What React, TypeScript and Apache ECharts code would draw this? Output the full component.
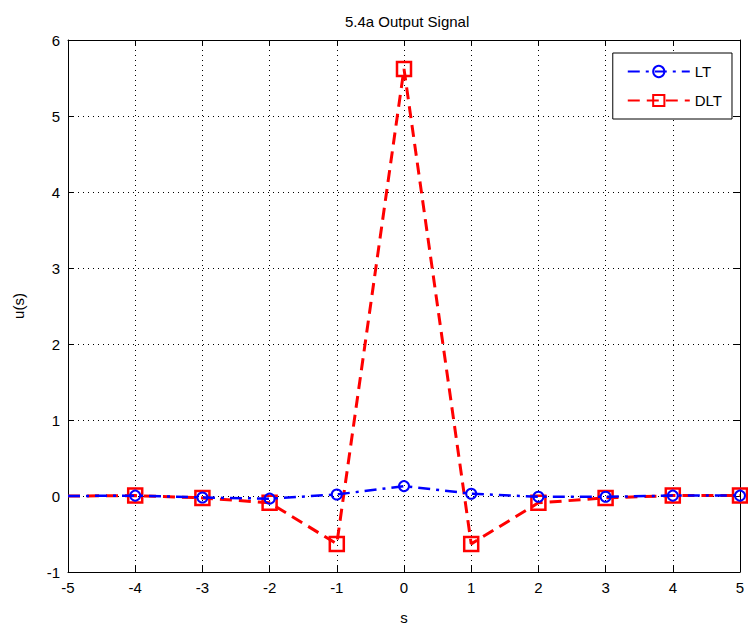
import React, { useEffect, useRef } from "react";
import * as echarts from "echarts";

const sValues = [-5, -4, -3, -2, -1, 0, 1, 2, 3, 4, 5];
const ltValues = [0, 0.005, -0.02, -0.035, 0.02, 0.13, 0.03, -0.01, -0.01, 0.005, 0.005];
const dltValues = [0, 0.005, -0.025, -0.09, -0.63, 5.62, -0.63, -0.09, -0.025, 0.005, 0.005];
const xTicks = { min: -5, max: 5, interval: 1 };
const yTicks = { min: -1, max: 6, interval: 1 };

export default function App() {
  const ref = useRef<HTMLDivElement>(null);
  useEffect(() => {
    if (!ref.current) return;
    const chart = echarts.init(ref.current, null, { renderer: "svg" });
    const font = "Liberation Sans, Arial, sans-serif";
    const toData = (vals: number[]) =>
      vals.map((v, i) =>
        i === 0 ? { value: [sValues[i], v], symbol: "none" } : { value: [sValues[i], v] }
      );
    const mainAxisCommon = {
      axisLine: { show: true, onZero: false, lineStyle: { color: "#000", width: 1 } },
      axisTick: { show: true, inside: true, length: 6, lineStyle: { color: "#000" } },
      axisLabel: { color: "#000", fontSize: 15, fontFamily: font },
      splitLine: { show: true, lineStyle: { color: "#000", type: [1, 4], width: 1 } },
      nameTextStyle: { color: "#000", fontSize: 15, fontFamily: font },
    };
    const sideAxisCommon = {
      axisLine: { show: true, onZero: false, lineStyle: { color: "#000", width: 1 } },
      axisTick: { show: true, inside: true, length: 6, lineStyle: { color: "#000" } },
      axisLabel: { show: false },
      splitLine: { show: false },
    };
    chart.setOption({
      animation: false,
      backgroundColor: "#fff",
      title: {
        text: "5.4a Output Signal",
        left: 340,
        top: 9,
        textStyle: { color: "#000", fontSize: 15, fontWeight: "normal", fontFamily: font },
      },
      grid: { left: 68, right: 8, top: 40, bottom: 55, containLabel: false },
      legend: {
        orient: "vertical",
        right: 16,
        top: 53,
        padding: [11, 10, 11, 14],
        itemGap: 14,
        itemWidth: 62,
        itemHeight: 14,
        backgroundColor: "#fff",
        borderColor: "#000",
        borderWidth: 1,
        borderRadius: 0,
        textStyle: { color: "#000", fontSize: 15, fontFamily: font },
        data: ["LT", "DLT"],
      },
      xAxis: [
        { type: "value", ...xTicks, name: "s", nameLocation: "middle", nameGap: 38, ...mainAxisCommon },
        { type: "value", position: "top", ...xTicks, ...sideAxisCommon },
      ],
      yAxis: [
        { type: "value", ...yTicks, name: "u(s)", nameLocation: "middle", nameGap: 42, ...mainAxisCommon },
        { type: "value", position: "right", ...yTicks, ...sideAxisCommon },
      ],
      series: [
        {
          name: "LT",
          type: "line",
          data: toData(ltValues),
          symbol: "circle",
          symbolSize: 10,
          itemStyle: { color: "rgba(255,255,255,0)", borderColor: "#0000ff", borderWidth: 2 },
          lineStyle: { color: "#0000ff", width: 2.5, type: [12, 6, 3, 6] },
          z: 3,
        },
        {
          name: "DLT",
          type: "line",
          data: toData(dltValues),
          symbol: "rect",
          symbolSize: 14,
          itemStyle: { color: "rgba(255,255,255,0)", borderColor: "#ff0000", borderWidth: 2.5 },
          lineStyle: { color: "#ff0000", width: 3, type: [12, 7] },
          z: 2,
        },
      ],
    });
    return () => chart.dispose();
  }, []);
  return (
    <div
      ref={ref}
      style={{ position: "absolute", left: 0, top: 0, width: 748, height: 630, background: "#fff" }}
    />
  );
}
